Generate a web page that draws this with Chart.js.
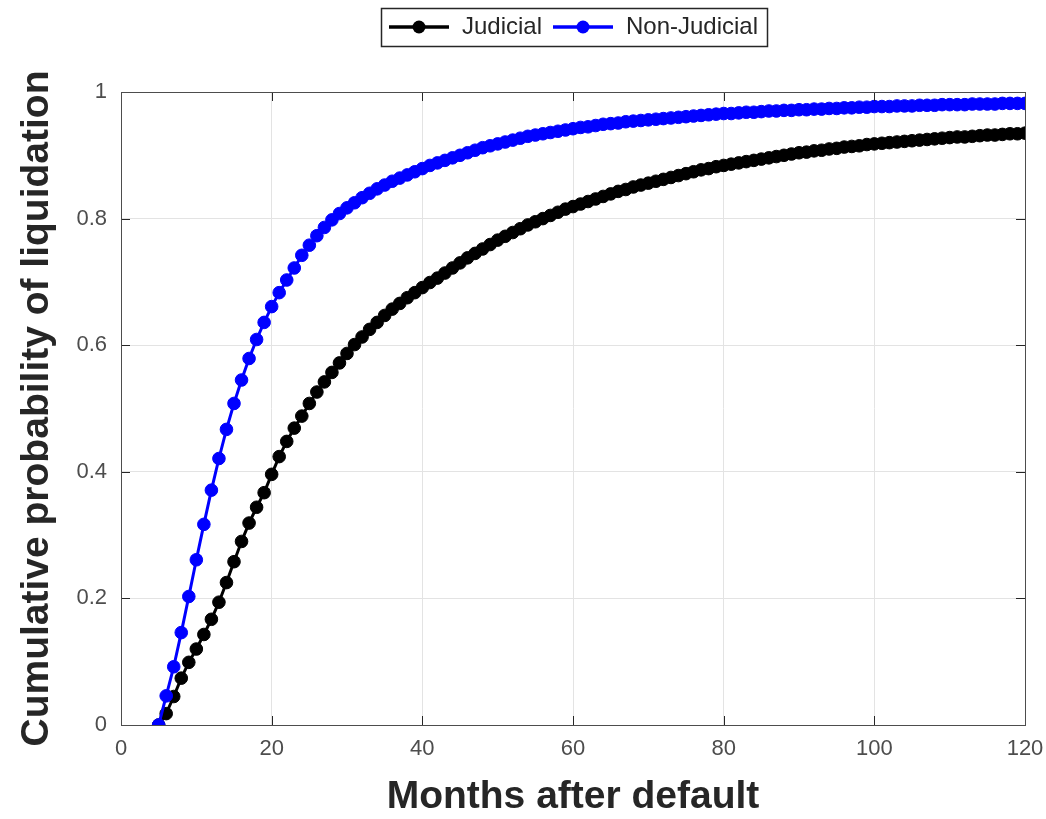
<!DOCTYPE html>
<html>
<head>
<meta charset="utf-8">
<title>Cumulative probability of liquidation</title>
<script src="https://cdn.jsdelivr.net/npm/chart.js@4/dist/chart.umd.min.js"></script>
<style>
    body { margin: 0; background: #fff; }
</style>
</head>
<body>
<canvas id="grafico" width="1046" height="819"></canvas>
<script>
const meses = [
    5, 6, 7, 8, 9, 10, 11, 12, 13, 14,
    15, 16, 17, 18, 19, 20, 21, 22, 23, 24,
    25, 26, 27, 28, 29, 30, 31, 32, 33, 34,
    35, 36, 37, 38, 39, 40, 41, 42, 43, 44,
    45, 46, 47, 48, 49, 50, 51, 52, 53, 54,
    55, 56, 57, 58, 59, 60, 61, 62, 63, 64,
    65, 66, 67, 68, 69, 70, 71, 72, 73, 74,
    75, 76, 77, 78, 79, 80, 81, 82, 83, 84,
    85, 86, 87, 88, 89, 90, 91, 92, 93, 94,
    95, 96, 97, 98, 99, 100, 101, 102, 103, 104,
    105, 106, 107, 108, 109, 110, 111, 112, 113, 114,
    115, 116, 117, 118, 119, 120
]

const judicial = [
    0, 0.018, 0.045, 0.074, 0.099, 0.12, 0.143, 0.167, 0.194, 0.225,
    0.258, 0.29, 0.319, 0.344, 0.367, 0.396, 0.424, 0.448, 0.469, 0.488,
    0.508, 0.526, 0.542, 0.557, 0.572, 0.587, 0.601, 0.613, 0.625, 0.636,
    0.647, 0.657, 0.666, 0.675, 0.683, 0.691, 0.699, 0.706, 0.714, 0.722,
    0.73, 0.738, 0.745, 0.752, 0.759, 0.766, 0.772, 0.778, 0.784, 0.79,
    0.795, 0.8, 0.805, 0.81, 0.815, 0.819, 0.823, 0.827, 0.831, 0.835,
    0.839, 0.843, 0.846, 0.85, 0.853, 0.856, 0.859, 0.862, 0.865, 0.868,
    0.871, 0.874, 0.877, 0.879, 0.882, 0.884, 0.886, 0.888, 0.89, 0.892,
    0.894, 0.896, 0.898, 0.9, 0.902, 0.904, 0.905, 0.907, 0.908, 0.91,
    0.911, 0.913, 0.914, 0.915, 0.917, 0.918, 0.919, 0.92, 0.921, 0.922,
    0.923, 0.924, 0.925, 0.926, 0.927, 0.928, 0.929, 0.929, 0.93, 0.931,
    0.932, 0.932, 0.933, 0.934, 0.934, 0.935
]

const no_judicial = [
    0, 0.046, 0.092, 0.146, 0.203, 0.261, 0.317, 0.371, 0.421, 0.467,
    0.508, 0.545, 0.579, 0.609, 0.636, 0.661, 0.683, 0.703, 0.722, 0.742,
    0.758, 0.773, 0.786, 0.798, 0.808, 0.817, 0.825, 0.833, 0.84, 0.847,
    0.853, 0.859, 0.864, 0.869, 0.874, 0.879, 0.884, 0.888, 0.892, 0.896,
    0.9, 0.904, 0.908, 0.912, 0.915, 0.918, 0.921, 0.924, 0.927, 0.93,
    0.932, 0.934, 0.936, 0.938, 0.94, 0.942, 0.944, 0.945, 0.947, 0.949,
    0.95, 0.951, 0.953, 0.954, 0.955, 0.956, 0.957, 0.958, 0.959, 0.96,
    0.961, 0.962, 0.963, 0.964, 0.965, 0.966, 0.966, 0.967, 0.968, 0.968,
    0.969, 0.97, 0.97, 0.971, 0.971, 0.972, 0.972, 0.973, 0.973, 0.974,
    0.974, 0.975, 0.975, 0.976, 0.976, 0.977, 0.977, 0.977, 0.978, 0.978,
    0.978, 0.979, 0.979, 0.979, 0.98, 0.98, 0.98, 0.98, 0.981, 0.981,
    0.981, 0.981, 0.982, 0.982, 0.982, 0.982
]

const ticks_x = [0, 20, 40, 60, 80, 100, 120]
const ticks_y = [0, 0.2, 0.4, 0.6, 0.8, 1]

const series = [
    { nombre: 'Judicial', valores: judicial, color: '#000000' },
    { nombre: 'Non-Judicial', valores: no_judicial, color: '#0000ff' }
]

const color_ejes = '#262626'

Chart.defaults.font.family = '"Liberation Sans", Arial, sans-serif'

// simbolo de la leyenda: linea con punto, como en matlab
function simbolo_leyenda(color) {
    const c = document.createElement('canvas')
    c.width = 62
    c.height = 16
    const ctx = c.getContext('2d')
    ctx.strokeStyle = color
    ctx.lineWidth = 3.5
    ctx.beginPath()
    ctx.moveTo(1, 8)
    ctx.lineTo(61, 8)
    ctx.stroke()
    ctx.fillStyle = color
    ctx.beginPath()
    ctx.arc(31, 8, 6.5, 0, Math.PI * 2)
    ctx.fill()
    return c
}

const caja_ejes = {
    id: 'caja_ejes',
    afterInit(chart) {
        // alto fijo de la leyenda para dejar el area del grafico donde va
        const fit_original = chart.legend.fit
        chart.legend.fit = function () {
            fit_original.call(this)
            this.height = 87
        }
    },
    afterDatasetsDraw(chart) {
        const { ctx, chartArea: a, scales } = chart
        ctx.save()
        ctx.strokeStyle = color_ejes
        ctx.lineWidth = 1
        for (let v of ticks_x) {
            const x = Math.round(scales.x.getPixelForValue(v)) + 0.5
            ctx.beginPath()
            ctx.moveTo(x, a.bottom); ctx.lineTo(x, a.bottom - 9)
            ctx.moveTo(x, a.top); ctx.lineTo(x, a.top + 9)
            ctx.stroke()
        }
        for (let v of ticks_y) {
            const y = Math.round(scales.y.getPixelForValue(v)) + 0.5
            ctx.beginPath()
            ctx.moveTo(a.left, y); ctx.lineTo(a.left + 9, y)
            ctx.moveTo(a.right, y); ctx.lineTo(a.right - 9, y)
            ctx.stroke()
        }
        ctx.strokeStyle = '#4d4d4d'
        ctx.strokeRect(Math.round(a.left) + 0.5, Math.round(a.top) + 0.5,
            Math.round(a.right - a.left), Math.round(a.bottom - a.top))
        ctx.restore()
    },
    afterDraw(chart) {
        const cajas = chart.legend.legendHitBoxes
        if (!cajas || !cajas.length) return
        const izq = Math.min(...cajas.map(c => c.left)) - 7
        const der = Math.max(...cajas.map(c => c.left + c.width)) + 9
        const arriba = cajas[0].top - 7
        const abajo = cajas[0].top + cajas[0].height + 7
        const ctx = chart.ctx
        ctx.save()
        ctx.strokeStyle = color_ejes
        ctx.lineWidth = 1.5
        ctx.strokeRect(Math.round(izq) + 0.5, Math.round(arriba) + 0.5,
            Math.round(der - izq), Math.round(abajo - arriba))
        ctx.restore()
    }
}

function dibujar_grafico() {
    const datasets = series.map((s, i) => ({
        label: s.nombre,
        data: meses.map((m, j) => ({ x: m, y: s.valores[j] })),
        borderColor: s.color,
        backgroundColor: s.color,
        pointBackgroundColor: s.color,
        pointBorderColor: s.color,
        pointRadius: 6.3,
        pointBorderWidth: 1,
        borderWidth: 3,
        tension: 0,
        order: series.length - i,
        simbolo: simbolo_leyenda(s.color)
    }))

    new Chart(document.getElementById('grafico'), {
        type: 'line',
        data: { datasets: datasets },
        options: {
            responsive: false,
            animation: false,
            layout: { padding: { top: 5, right: 21, left: 0, bottom: 0 } },
            plugins: {
                tooltip: { enabled: false },
                legend: {
                    position: 'top',
                    fullSize: false,
                    labels: {
                        usePointStyle: true,
                        pointStyleWidth: 62,
                        padding: 10,
                        color: color_ejes,
                        font: { size: 24 },
                        sort: (a, b) => a.datasetIndex - b.datasetIndex,
                        generateLabels(chart) {
                            const items = Chart.defaults.plugins.legend.labels.generateLabels(chart)
                            items.forEach(it => {
                                it.pointStyle = chart.data.datasets[it.datasetIndex].simbolo
                            })
                            return items
                        }
                    }
                }
            },
            scales: {
                x: {
                    type: 'linear',
                    min: 0,
                    max: 120,
                    afterFit: s => {
                        s.height = 94
                        s.paddingLeft = 0
                        s.paddingRight = 0
                    },
                    afterBuildTicks: s => { s.ticks = ticks_x.map(v => ({ value: v })) },
                    grid: { color: '#e3e3e3', drawTicks: false },
                    border: { display: false },
                    ticks: { color: '#4d4d4d', font: { size: 22 }, padding: 11, maxRotation: 0 },
                    title: {
                        display: true,
                        text: 'Months after default',
                        color: color_ejes,
                        font: { size: 39, weight: 'bold' },
                        padding: { top: 0, bottom: -2 }
                    }
                },
                y: {
                    min: 0,
                    max: 1,
                    afterFit: s => { s.width = 121 },
                    afterBuildTicks: s => { s.ticks = ticks_y.map(v => ({ value: v })) },
                    grid: { color: '#e3e3e3', drawTicks: false },
                    border: { display: false },
                    ticks: {
                        color: '#4d4d4d',
                        font: { size: 22 },
                        padding: 14,
                        callback: v => String(v)
                    },
                    title: {
                        display: true,
                        text: 'Cumulative probability of liquidation',
                        color: color_ejes,
                        font: { size: 39, weight: 'bold' },
                        padding: { top: 14, bottom: 0 }
                    }
                }
            }
        },
        plugins: [caja_ejes]
    })
}

dibujar_grafico()
</script>
</body>
</html>
